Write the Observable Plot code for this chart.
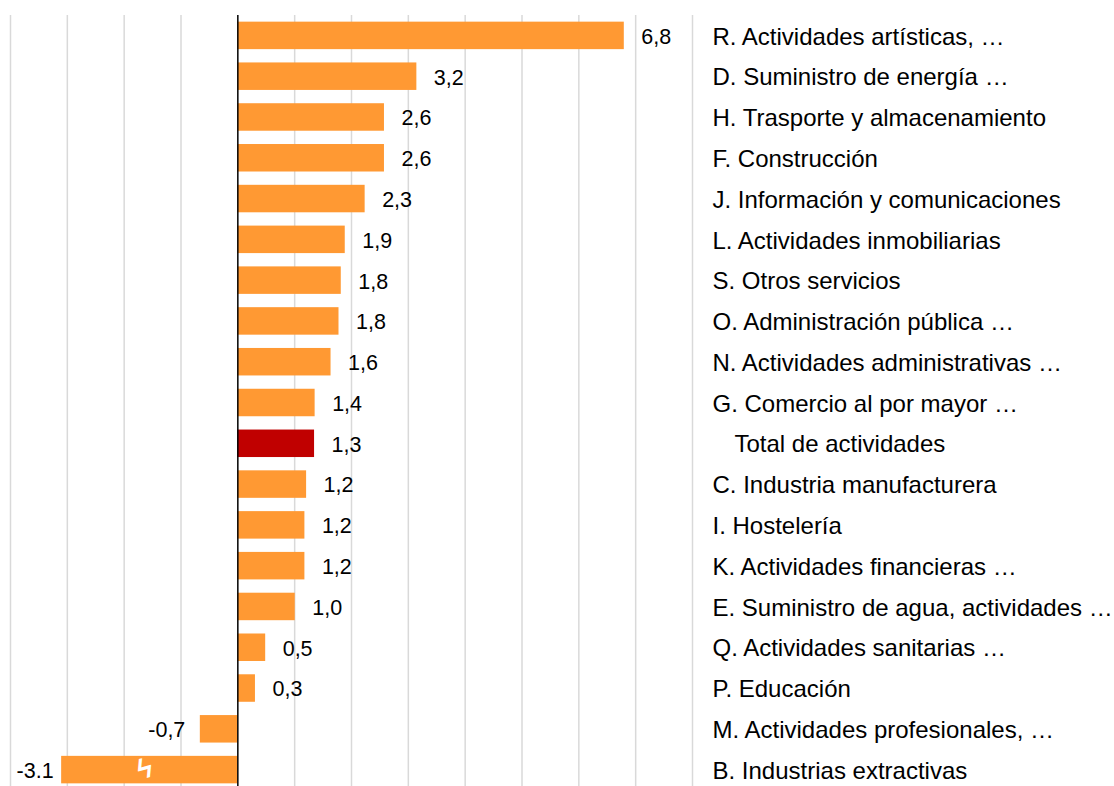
<!DOCTYPE html>
<html>
<head>
<meta charset="utf-8">
<script src="https://cdn.jsdelivr.net/npm/d3@7"></script>
<script src="https://cdn.jsdelivr.net/npm/@observablehq/plot@0.6"></script>
<style>
  html, body { margin: 0; padding: 0; background: #fff; overflow: hidden; }
  #chart svg { display: block; font-family: "Liberation Sans", Arial, sans-serif; }
</style>
</head>
<body>
<div id="chart"></div>
<script>
const categories = [
  "R. Actividades artísticas, …",
  "D. Suministro de energía …",
  "H. Trasporte y almacenamiento",
  "F. Construcción",
  "J. Información y comunicaciones",
  "L. Actividades inmobiliarias",
  "S. Otros servicios",
  "O. Administración pública …",
  "N. Actividades administrativas …",
  "G. Comercio al por mayor …",
  "Total de actividades",
  "C. Industria manufacturera",
  "I. Hostelería",
  "K. Actividades financieras …",
  "E. Suministro de agua, actividades …",
  "Q. Actividades sanitarias …",
  "P. Educación",
  "M. Actividades profesionales, …",
  "B. Industrias extractivas"
];
const values = [6.8, 3.15, 2.58, 2.58, 2.24, 1.89, 1.82, 1.78, 1.64, 1.36, 1.35, 1.21, 1.18, 1.18, 1.01, 0.49, 0.31, -0.66, -3.1];
const valueLabels = ["6,8", "3,2", "2,6", "2,6", "2,3", "1,9", "1,8", "1,8", "1,6", "1,4", "1,3", "1,2", "1,2", "1,2", "1,0", "0,5", "0,3", "-0,7", "-3.1"];
const totalName = "Total de actividades";
const brokenName = "B. Industrias extractivas";
const gridTicks = [-4, -3, -2, -1, 1, 2, 3, 4, 5, 6, 7, 8];

const data = categories.map((c, i) => ({category: c, value: values[i], label: valueLabels[i]}));

const chart = Plot.plot({
  width: 1114,
  height: 790,
  marginLeft: 10,
  marginRight: 422,
  marginTop: 15,
  marginBottom: 0,
  style: {fontFamily: "'Liberation Sans', Arial, sans-serif", background: "#fff"},
  x: {domain: [-4, 8], axis: null},
  y: {domain: categories, paddingInner: 0.326, paddingOuter: 0.163, round: false, axis: null},
  marks: [
    Plot.ruleX(gridTicks, {stroke: "#d9d9d9", strokeWidth: 1.5}),
    Plot.barX(data, {
      y: "category", x: "value",
      fill: d => d.category === totalName ? "#c00000" : "#ff9933"
    }),
    Plot.text(data.filter(d => d.category === brokenName), {
      y: "category", x: d => d.value / 2, text: () => "ϟ",
      fill: "#fff", fontSize: 28, fontWeight: "bold", dx: -5, dy: -1, rotate: -15
    }),
    Plot.ruleX([0], {stroke: "#000", strokeWidth: 1.5}),
    Plot.text(data.filter(d => d.value >= 0), {
      y: "category", x: "value", text: "label",
      textAnchor: "start", dx: 17, dy: 1, fontSize: 21.5, fill: "#000"
    }),
    Plot.text(data.filter(d => d.value < 0 && d.category !== brokenName), {
      y: "category", x: "value", text: "label",
      textAnchor: "end", dx: -15, dy: 1, fontSize: 21.5, fill: "#000"
    }),
    Plot.text(data.filter(d => d.category === brokenName), {
      y: "category", x: "value", text: "label",
      textAnchor: "end", dx: -8, dy: 1, fontSize: 21.5, fill: "#000"
    }),
    Plot.text(data.filter(d => d.category !== totalName), {
      y: "category", text: "category", frameAnchor: "right",
      textAnchor: "start", dx: 20, dy: 1, fontSize: 24, fill: "#000"
    }),
    Plot.text(data.filter(d => d.category === totalName), {
      y: "category", text: "category", frameAnchor: "right",
      textAnchor: "start", dx: 42, dy: 1, fontSize: 24, fill: "#000"
    })
  ]
});
document.getElementById("chart").appendChild(chart);
</script>
</body>
</html>
